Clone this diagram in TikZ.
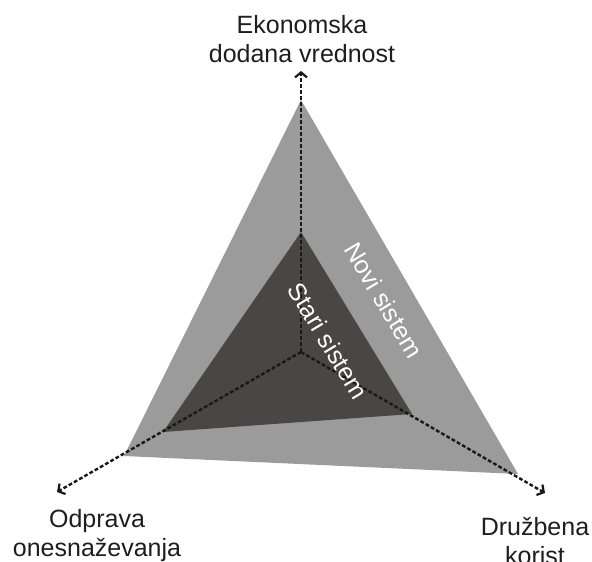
\documentclass[tikz,border=0pt]{standalone}
\usepackage{fontspec}
\setmainfont{Liberation Sans}
\usetikzlibrary{arrows.meta}
\definecolor{outerfill}{RGB}{155,155,155}
\definecolor{innerfill}{RGB}{74,70,70}
\definecolor{labeltext}{RGB}{30,30,30}
\begin{document}
\begin{tikzpicture}[x=1pt,y=-1pt,
  axis/.style={dash pattern=on 3.8pt off 2.2pt, line width=2.4pt, color=black!90,
    -{Straight Barb[length=5pt,width=12pt,line width=2.2pt]}},
  axislabel/.style={font=\fontsize{25}{29}\selectfont, align=center, text=labeltext, inner sep=0pt},
  syslabel/.style={font=\fontsize{25}{29}\selectfont, text=white, rotate=-59, inner sep=0pt}]
\useasboundingbox (0,0) rectangle (592,562);

% centre of the three axes
\coordinate (c) at (301,352);
% axis arrow tips
\coordinate (at) at (301,71);
\coordinate (al) at (57,492);
\coordinate (ar) at (545,493);
% new system (outer triangle)
\coordinate (ot) at (301,100);
\coordinate (ol) at (124,456);
\coordinate (or) at (518,474);
% old system (inner triangle)
\coordinate (it) at (301,232);
\coordinate (il) at (163,432);
\coordinate (ir) at (412,414);

\fill[outerfill] (ot) -- (ol) -- (or) -- cycle;
\fill[innerfill] (it) -- (il) -- (ir) -- cycle;

\draw[axis] (c) -- (at);
\draw[axis] (c) -- (al);
\draw[axis] (c) -- (ar);

\node[syslabel] (novi) at (384,300) {Novi sistem};
\node[syslabel] (stari) at (328,341) {Stari sistem};

\node[axislabel] (eko) at (302,39) {Ekonomska\\dodana vrednost};
\node[axislabel] (odp) at (97,536) {Odprava\\onesnaževanja};
\node[axislabel] (dru) at (535,541) {Družbena\\korist};
\end{tikzpicture}
\end{document}
